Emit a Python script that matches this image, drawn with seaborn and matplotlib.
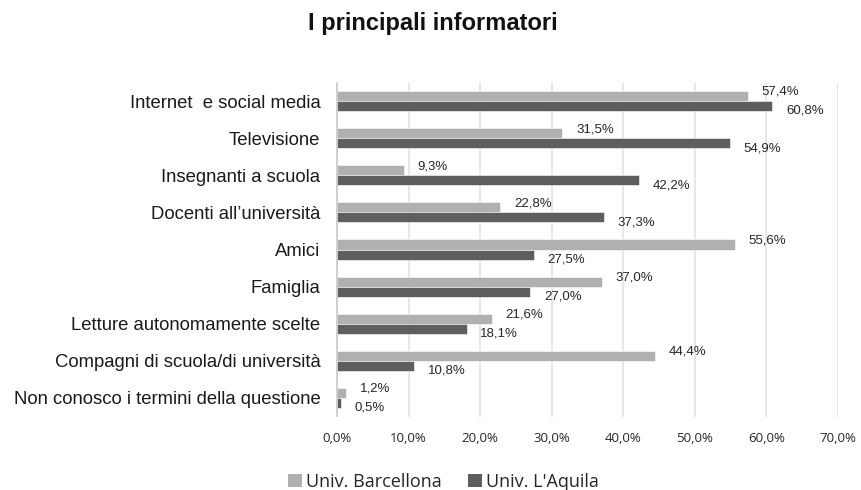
import matplotlib
matplotlib.use("Agg")
import matplotlib.pyplot as plt
from matplotlib.patches import Patch
import seaborn as sns
import pandas as pd

categories = [
    "Internet  e social media",
    "Televisione",
    "Insegnanti a scuola",
    "Docenti all\u2019università",
    "Amici",
    "Famiglia",
    "Letture autonomamente scelte",
    "Compagni di scuola/di università",
    "Non conosco i termini della questione",
]
barcellona = [57.4, 31.5, 9.3, 22.8, 55.6, 37.0, 21.6, 44.4, 1.2]
aquila = [60.8, 54.9, 42.2, 37.3, 27.5, 27.0, 18.1, 10.8, 0.5]
series = ["Univ. Barcellona", "Univ. L'Aquila"]
x_ticks = [0, 10, 20, 30, 40, 50, 60, 70]

colors = {series[0]: "#b0b0b0", series[1]: "#5e5e5e"}


def pct(v):
    return f"{v:.1f}".replace(".", ",") + "%"


df = pd.DataFrame({
    "categoria": categories * 2,
    "valore": barcellona + aquila,
    "serie": [series[0]] * len(categories) + [series[1]] * len(categories),
})

sns.set_theme(style="white")
plt.rcParams["font.family"] = ["Liberation Sans", "DejaVu Sans"]

fig = plt.figure(figsize=(8.61, 4.9), dpi=100)
ax = fig.add_axes([0.3914, 0.150, 0.5819, 0.6816])

sns.barplot(
    data=df, y="categoria", x="valore", hue="serie", order=categories,
    hue_order=series, palette=colors, orient="h", width=0.54,
    edgecolor="white", linewidth=0.4, legend=False, ax=ax,
)

# value labels: upper series nudged up, lower series nudged down
for cont, vals, dy in zip(ax.containers, (barcellona, aquila), (3.0, -3.5)):
    for bar, v in zip(cont, vals):
        yc = bar.get_y() + bar.get_height() / 2
        ax.annotate(pct(v), xy=(v, yc), xytext=(10, dy), textcoords="offset points",
                    ha="left", va="center", fontsize=9.5, color="#262626")

ax.set_xlim(0, 70)
ax.set_ylim(len(categories) - 0.5, -0.5)
ax.set_xticks(x_ticks)
ax.set_xticklabels([pct(t) for t in x_ticks], fontsize=9.5, color="#262626",
                   family=["Open Sans", "DejaVu Sans"])
ax.tick_params(axis="x", length=0, pad=11)
ax.tick_params(axis="y", length=0, pad=12, labelsize=13.35, labelcolor="#1a1a1a")
ax.set_xlabel("")
ax.set_ylabel("")
ax.xaxis.grid(True, color="#e3e3e3", linewidth=1.2)
ax.set_axisbelow(True)
for s in ("top", "right", "bottom"):
    ax.spines[s].set_visible(False)
ax.spines["left"].set_color("#c8c8c8")
ax.spines["left"].set_linewidth(1.2)

fig.text(0.503, 0.953, "I principali informatori", ha="center", va="center",
         fontsize=17, fontweight="bold", color="#111111")

handles = [Patch(facecolor=colors[s], edgecolor="none") for s in series]
fig.legend(handles, series, loc="center", bbox_to_anchor=(0.515, 0.016), ncol=2,
           frameon=False, handlelength=0.75, handleheight=0.75, handletextpad=0.2,
           columnspacing=1.5, prop={"family": "Open Sans", "size": 13})

fig.savefig("out.png", dpi=100)
